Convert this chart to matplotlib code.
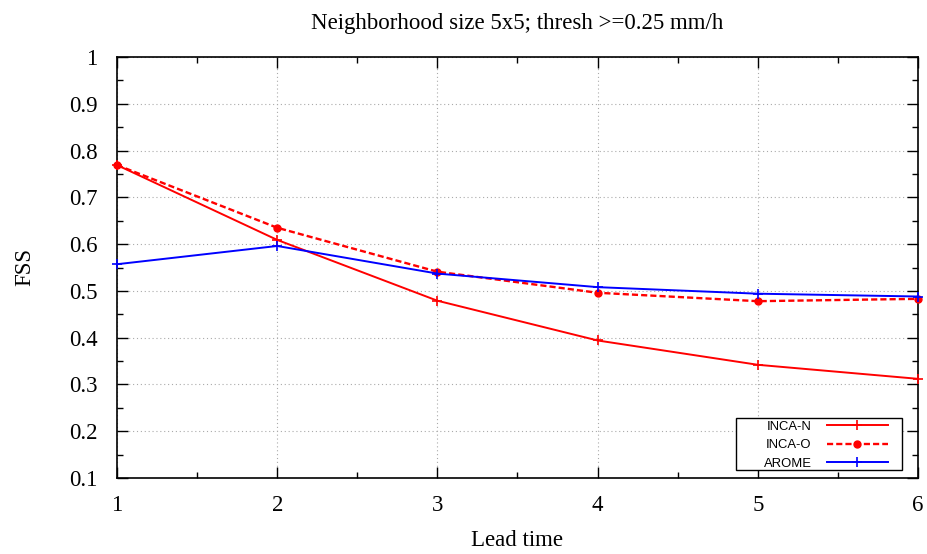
import matplotlib
matplotlib.use("Agg")
import matplotlib.pyplot as plt
from matplotlib.ticker import MultipleLocator
from matplotlib.patches import Rectangle

lead_time = [1, 2, 3, 4, 5, 6]
inca_n = [0.769, 0.609, 0.479, 0.394, 0.342, 0.312]
inca_o = [0.769, 0.635, 0.541, 0.496, 0.478, 0.483]
arome = [0.557, 0.596, 0.537, 0.508, 0.494, 0.488]

serif = ['Liberation Serif', 'DejaVu Serif']
sans = ['Liberation Sans', 'DejaVu Sans']
FS = 16.5

fig = plt.figure(figsize=(9.28, 5.54), dpi=100)
ax = fig.add_axes([117/928, 1-478/554, (918-117)/928, (478-57)/554])

ax.plot(lead_time, inca_n, color='#ff0000', lw=1.4, marker='+', ms=6.5, mew=1.2,
        label='INCA-N', zorder=3, clip_on=False)
ax.plot(lead_time, inca_o, color='#ff0000', lw=1.7, ls=(0, (2.6, 1.3)), marker='o', ms=5,
        label='INCA-O', zorder=3, clip_on=False)
ax.plot(lead_time, arome, color='#0000ff', lw=1.4, marker='+', ms=6.5, mew=1.2,
        label='AROME', zorder=3, clip_on=False)

ax.set_xlim(1, 6)
ax.set_ylim(0.1, 1)
ax.xaxis.set_major_locator(MultipleLocator(1))
ax.xaxis.set_minor_locator(MultipleLocator(0.5))
ax.yaxis.set_minor_locator(MultipleLocator(0.05))
ax.set_yticks([0.1, 0.2, 0.3, 0.4, 0.5, 0.6, 0.7, 0.8, 0.9, 1.0])
ax.set_yticklabels(['0.1', '0.2', '0.3', '0.4', '0.5', '0.6', '0.7', '0.8', '0.9', '1'])
ax.tick_params(which='both', direction='in', top=True, right=True, width=1)
ax.tick_params(which='major', length=8, labelsize=FS)
ax.tick_params(axis='y', which='major', pad=14)
ax.tick_params(axis='x', which='major', pad=12)
ax.tick_params(which='minor', length=4)
for lab in ax.get_xticklabels() + ax.get_yticklabels():
    lab.set_family(serif)
ax.grid(True, which='major', color='#aaaaaa', ls=(0, (1, 2.5)), lw=0.8)
for s in ax.spines.values():
    s.set_linewidth(1.2)

ax.set_title('Neighborhood size 5x5; thresh >=0.25 mm/h', family=serif, fontsize=FS, pad=20)
ax.set_xlabel('Lead time', family=serif, fontsize=FS, labelpad=10)
ax.set_ylabel('FSS', family=serif, fontsize=FS, labelpad=24)

leg = ax.legend(loc='lower right', bbox_to_anchor=((888-117)/801, (478-470)/421), markerfirst=False,
                prop={'family': sans, 'size': 9.4}, frameon=False,
                handlelength=4.7, borderpad=0, labelspacing=0.5, handletextpad=1.15, borderaxespad=0)
leg.set_zorder(6)
ax.add_patch(Rectangle(((736-117)/801, (478-470)/421), (902-736)/801, (470-418)/421,
                       transform=ax.transAxes, facecolor='white', edgecolor='black',
                       lw=1.0, zorder=5))

fig.savefig('out.png', dpi=100)
